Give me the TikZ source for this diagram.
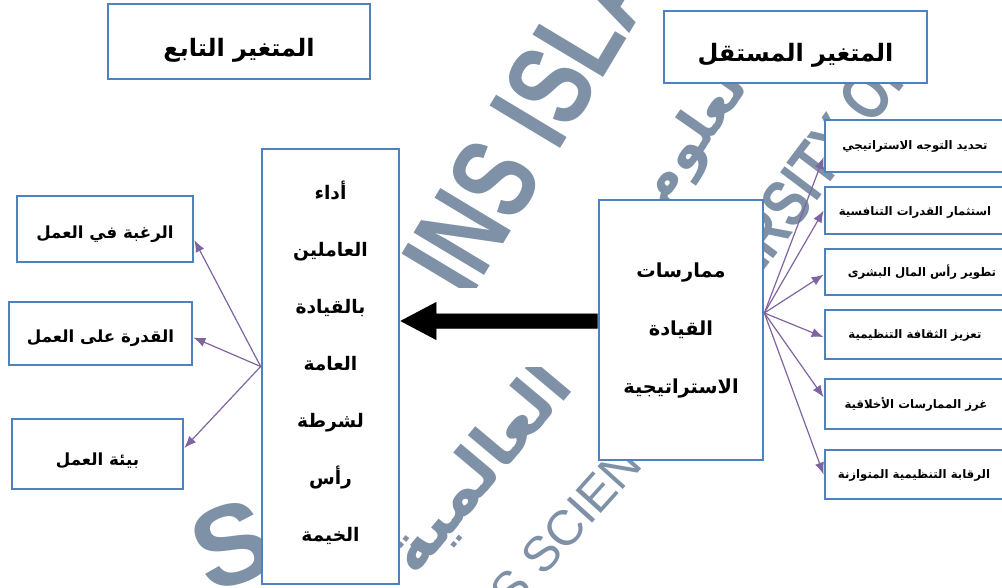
\documentclass[tikz,border=0pt]{standalone}
\usepackage{fontspec}
\usepackage{graphicx}
\usetikzlibrary{arrows.meta,fit,calc}
\TeXXeTstate=1
\newfontfamily\arabicfont[Script=Arabic]{DejaVu Sans}
\newfontfamily\sealfont{Liberation Sans}
\newcommand\artext[1]{\beginR #1\endR}
\definecolor{boxblue}{RGB}{79,129,189}
\definecolor{fanpurple}{RGB}{128,100,162}
\definecolor{sealgrey}{RGB}{126,145,166}
\definecolor{shadowgrey}{RGB}{170,170,170}

\begin{document}
\begin{tikzpicture}[x=0.75pt,y=-0.75pt,
  box/.style={draw=boxblue,line width=2pt,fill=white,inner sep=0pt},
  label/.style={inner sep=0pt,align=center,font=\arabicfont\bfseries\fontsize{#1}{#1}\selectfont},
  lines/.style={inner sep=0pt,align=center,font=\arabicfont\bfseries\fontsize{14}{#1}\selectfont},
  fan/.style={draw=fanpurple,line width=0.9pt,-{Latex[length=9pt,width=7pt]}},
  seal/.style={text=sealgrey,inner sep=0pt},
]
\useasboundingbox (0,0) rectangle (1002,588);
\clip (0,0) rectangle (1002,588);
\fill[white] (0,0) rectangle (1002,588);

% faint university seal behind the diagram
\node[seal,rotate=59,font=\sealfont\bfseries\fontsize{78}{78}\selectfont] (sealTop) at (530,120) {\scalebox{0.85}[1.15]{INS ISLA}};
\node[seal,rotate=53,font=\sealfont\bfseries\fontsize{46}{46}\selectfont] (sealRight) at (815,165) {\scalebox{0.85}[1.1]{ERSITY OF}};
\node[seal,rotate=48,font=\sealfont\fontsize{37}{37}\selectfont] (sealBottom) at (600,490) {S SCIENCES};
\node[seal,rotate=20,font=\sealfont\bfseries\fontsize{85}{85}\selectfont] (sealLeft) at (232,545) {S};
\node[seal,rotate=50,font=\arabicfont\bfseries\fontsize{50}{50}\selectfont] (sealAr1) at (480,470) {\artext{العالمية}};
\node[seal,rotate=55,font=\arabicfont\bfseries\fontsize{42}{42}\selectfont] (sealAr2) at (700,132) {\artext{العلوم}};

% clear band behind the main arrow
\fill[white] (399,288) rectangle (599,367);

% frames
\node[box,fit={(108,4) (370,79)}] (depTitle) {};
\node[box,fit={(664,11) (927,83)}] (indTitle) {};
\node[box,fit={(262,149) (399,584)}] (perf) {};
\node[box,fit={(17,196) (193,262)}] (l1) {};
\node[box,fit={(9,302) (192,365)}] (l2) {};
\node[box,fit={(12,419) (183,489)}] (l3) {};
\node[box,fit={(599,200) (763,460)}] (prac) {};
\node[box,fit={(825,120) (1005,172)}] (r1) {};
\node[box,fit={(825,187) (1005,234)}] (r2) {};
\node[box,fit={(825,249) (1005,295)}] (r3) {};
\node[box,fit={(825,310) (1005,359)}] (r4) {};
\node[box,fit={(825,379) (1005,429)}] (r5) {};
\node[box,fit={(825,450) (1005,499)}] (r6) {};

% headings
\node[label=18,anchor=base] (depTitleText) at (239,57) {\artext{المتغير التابع}};
\node[label=18,anchor=base] (indTitleText) at (795.5,62) {\artext{المتغير المستقل}};

% dependent variable and its dimensions
\node[lines=42.75] (perfText) at (330.5,362.5)
  {\artext{أداء}\\\artext{العاملين}\\\artext{بالقيادة}\\\artext{العامة}\\\artext{لشرطة}\\\artext{رأس}\\\artext{الخيمة}};
\node[label=12.5,anchor=base] (l1Text) at (105,238) {\artext{الرغبة في العمل}};
\node[label=12.5,anchor=base] (l2Text) at (100.5,342) {\artext{القدرة على العمل}};
\node[label=12.5,anchor=base] (l3Text) at (97.5,465) {\artext{بيئة العمل}};

% independent variable and its dimensions
\node[lines=43.5,font=\arabicfont\bfseries\fontsize{14.5}{43.5}\selectfont] (pracText) at (681,330.5)
  {\artext{ممارسات}\\\artext{القيادة}\\\artext{الاستراتيجية}};
\node[label=8.8,anchor=base] (r1Text) at (915,150) {\artext{تحديد التوجه الاستراتيجي}};
\node[label=8.8,anchor=base] (r2Text) at (915,215) {\artext{استثمار القدرات التنافسية}};
\node[label=8.8,anchor=base] (r3Text) at (922,276) {\artext{تطوير رأس المال البشرى}};
\node[label=8.8,anchor=base] (r4Text) at (915,338.5) {\artext{تعزيز الثقافة التنظيمية}};
\node[label=8.8,anchor=base] (r5Text) at (916,408) {\artext{غرز الممارسات الأخلاقية}};
\node[label=8.8,anchor=base] (r6Text) at (914,478.5) {\artext{الرقابة التنظيمية المتوازنة}};

% main arrow from practices to performance, with its drop shadow
\coordinate (ab) at ([yshift=6.75pt]prac.west);
\coordinate (at) at (ab -| perf.east);
\newcommand\mainarrow{(at) -- ++(36,-19) -- ++(0,11.5) -- ($(ab)+(0,-7.5)$)
  -- ($(ab)+(0,7.5)$) -- ($(at)+(36,7.5)$) -- ++(0,11.5) -- cycle}
\fill[shadowgrey,shift={(2,3)}] \mainarrow;
\fill[black] \mainarrow;

% fans to the dimensions
\draw[fan] (perf.west) -- ([yshift=-8.25pt]l1.east);
\draw[fan] (perf.west) -- ([yshift=-3pt]l2.east);
\draw[fan] (perf.west) -- ([yshift=4.5pt]l3.east);

\coordinate (rf) at ([yshift=12.75pt]prac.east);
\draw[fan] (rf) -- ([yshift=-8.25pt]r1.west);
\draw[fan] (rf) -- (r2.west);
\draw[fan] (rf) -- ([yshift=-2pt]r3.west);
\draw[fan] (rf) -- ([yshift=-2pt]r4.west);
\draw[fan] (rf) -- ([yshift=5pt]r5.west);
\draw[fan] (rf) -- (r6.west);
\end{tikzpicture}
\end{document}
